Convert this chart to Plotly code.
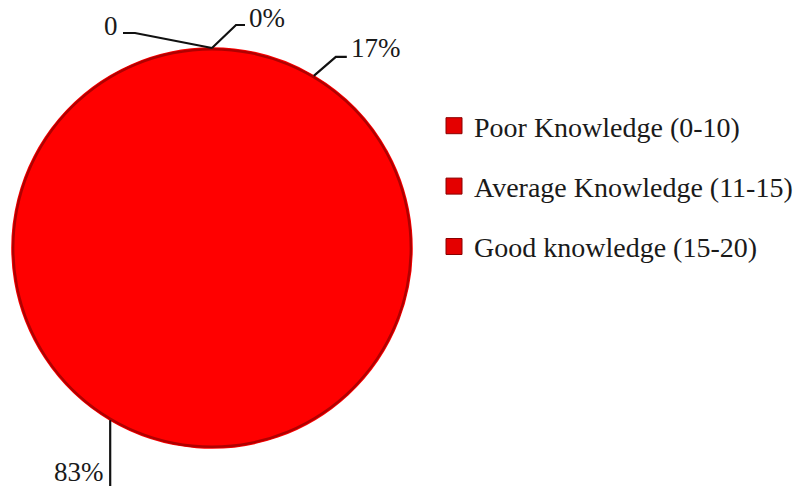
import math
import plotly.graph_objects as go

# Knowledge score groups and their share of respondents (%)
categories = ["Poor Knowledge (0-10)", "Average Knowledge (11-15)", "Good knowledge (15-20)"]
shares = [0, 17, 83]
share_labels = ["0%", "17%", "83%"]
# trailing unnamed point (value 0) that carries its own raw-value label
extra_value = 0
extra_label = "0"

W, H = 803, 486
PIE_COLOR = "#ff0000"
TEXT_COLOR = "#1a1a1a"
FONT = "Liberation Serif"

# pie placement in pixels
pie_x0, pie_x1 = 12, 412
pie_y0, pie_y1 = 48, 448
cx, cy = (pie_x0 + pie_x1) / 2, (pie_y0 + pie_y1) / 2
R = min(pie_x1 - pie_x0, pie_y1 - pie_y0) / 2

dom_x = [pie_x0 / W, pie_x1 / W]
dom_y = [1 - pie_y1 / H, 1 - pie_y0 / H]


def px(x):
    return x / W


def py(y):
    return 1 - y / H


fig = go.Figure()

fig.add_trace(go.Pie(
    labels=categories,
    values=shares,
    sort=False,
    direction="clockwise",
    rotation=0,
    marker=dict(colors=[PIE_COLOR] * len(categories),
                line=dict(color=PIE_COLOR, width=1.5)),
    textinfo="none",
    hoverinfo="label+percent",
    showlegend=False,
    domain=dict(x=dom_x, y=dom_y),
))

# darker rim giving the disc a bevelled edge
fig.add_trace(go.Pie(
    values=[1],
    labels=["rim"],
    hole=0.988,
    sort=False,
    marker=dict(colors=["#b00000"], line=dict(width=0)),
    textinfo="none",
    hoverinfo="skip",
    showlegend=False,
    domain=dict(x=dom_x, y=dom_y),
))

# legend entries
for name in categories:
    fig.add_trace(go.Scatter(
        x=[None], y=[None], mode="markers", name=name, legendgroup=name,
        marker=dict(symbol="square", size=20, color="#e40000",
                    line=dict(color="#8a0000", width=1)),
        hoverinfo="skip",
    ))

# angles of each label anchor (degrees clockwise from 12 o'clock)
total = sum(shares) + extra_value
anchors = []
cum = 0
for v in shares:
    frac = (cum + v / 2) / total if v > 0 else cum / total
    anchors.append(frac * 360)
    cum += v
extra_angle = 360.0

# leader-line layout: first bend offset, horizontal run, text side, text lift
leaders = [
    dict(bend=(24, -23), run=9, side="right", lift=-7),
    dict(bend=(22, -19), run=11, side="right", lift=-9),
    dict(bend=(0, 90), run=0, side="down", lift=52),
]
extra_leader = dict(bend=(-77, -15), run=-12, side="left", lift=-7)

shapes = []
annotations = []


def add_label(angle, text, spec):
    a = math.radians(angle)
    x0 = cx + R * math.sin(a)
    y0 = cy - R * math.cos(a)
    bx, by = x0 + spec["bend"][0], y0 + spec["bend"][1]
    ex, ey = bx + spec["run"], by
    shapes.append(dict(
        type="path", xref="paper", yref="paper",
        path=f"M {px(x0)} {py(y0)} L {px(bx)} {py(by)} L {px(ex)} {py(ey)}",
        line=dict(color="#111111", width=2.2),
    ))
    if spec["side"] == "right":
        ann = dict(x=px(ex + 2), y=py(ey + spec["lift"]), xanchor="left")
    elif spec["side"] == "left":
        ann = dict(x=px(ex - 3), y=py(ey + spec["lift"]), xanchor="right")
    else:
        ann = dict(x=px(x0 - 4), y=py(y0 + spec["lift"]), xanchor="right")
    ann.update(text=text, yanchor="middle")
    annotations.append(ann)


for ang, txt, spec in zip(anchors, share_labels, leaders):
    add_label(ang, txt, spec)
add_label(extra_angle, extra_label, extra_leader)

for ann in annotations:
    ann.update(xref="paper", yref="paper", showarrow=False,
               font=dict(family=FONT, size=27, color=TEXT_COLOR))

fig.update_layout(
    width=W, height=H,
    margin=dict(l=0, r=0, t=0, b=0),
    paper_bgcolor="white",
    plot_bgcolor="white",
    font=dict(family=FONT, color=TEXT_COLOR),
    xaxis=dict(visible=False),
    yaxis=dict(visible=False),
    showlegend=True,
    legend=dict(
        x=px(434), y=py(101), xanchor="left", yanchor="top",
        font=dict(family=FONT, size=28, color=TEXT_COLOR),
        tracegroupgap=21, bgcolor="rgba(0,0,0,0)",
    ),
    shapes=shapes,
    annotations=annotations,
)

fig.write_html("out.html")
